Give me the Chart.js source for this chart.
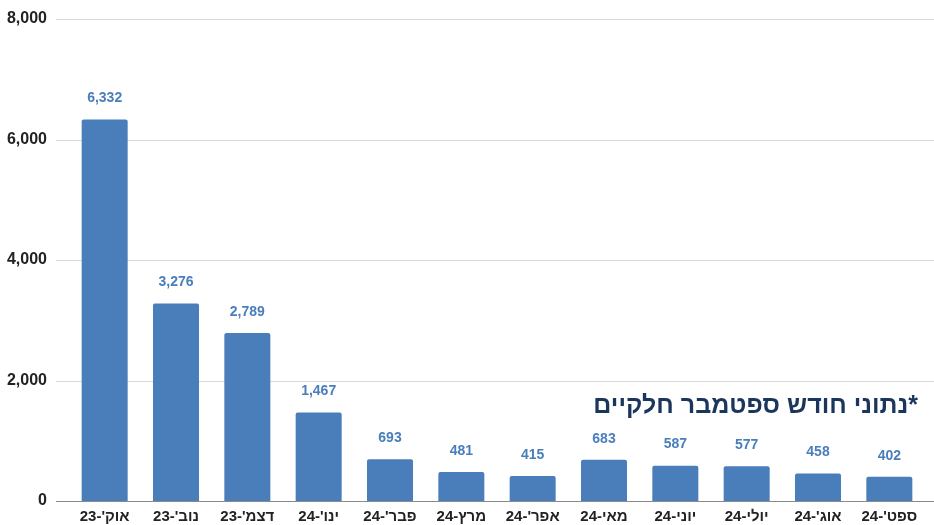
<!DOCTYPE html>
<html>
<head>
<meta charset="utf-8">
<script src="https://cdn.jsdelivr.net/npm/chart.js@4"></script>
<style>
html,body{margin:0;padding:0;background:#fff;}
#wrap{width:934px;height:525px;position:relative;}
</style>
</head>
<body>
<div id="wrap"><canvas id="c" width="934" height="525"></canvas></div>
<script>
const categories = ["אוק'-23","נוב'-23","דצמ'-23","ינו'-24","פבר'-24","מרץ-24","אפר'-24","מאי-24","יוני-24","יולי-24","אוג'-24","ספט'-24"];
const values = [6332, 3276, 2789, 1467, 693, 481, 415, 683, 587, 577, 458, 402];
const yTicks = [0, 2000, 4000, 6000, 8000];
const note = "*נתוני חודש ספטמבר חלקיים";

const FONT = "'Liberation Sans', Arial, sans-serif";

const gridPlugin = {
  id: 'gridExt',
  beforeDatasetsDraw(chart) {
    const ctx = chart.ctx, y = chart.scales.y;
    ctx.save();
    yTicks.forEach(v => {
      const py = Math.round(y.getPixelForValue(v)) + 0.5;
      ctx.strokeStyle = v === 0 ? '#8a8a8a' : '#d9d9d9';
      ctx.lineWidth = 1;
      ctx.beginPath();
      ctx.moveTo(56, py);
      ctx.lineTo(chart.width, py);
      ctx.stroke();
    });
    ctx.restore();
  },
  afterDatasetsDraw(chart) {
    const ctx = chart.ctx;
    const meta = chart.getDatasetMeta(0);
    ctx.save();
    ctx.font = "bold 14px " + FONT;
    ctx.fillStyle = '#4a7ebb';
    ctx.textAlign = 'center';
    ctx.textBaseline = 'middle';
    meta.data.forEach((bar, i) => {
      ctx.fillText(values[i].toLocaleString('en-US'), bar.x, bar.y - 21);
    });
    ctx.font = "bold 25px " + FONT;
    ctx.fillStyle = '#1b365d';
    ctx.direction = 'rtl';
    ctx.textAlign = 'right';
    ctx.fillText(note, 918, 406);
    ctx.restore();
  }
};

new Chart(document.getElementById('c'), {
  type: 'bar',
  data: {
    labels: categories,
    datasets: [{
      data: values,
      backgroundColor: '#4a7ebb',
      borderRadius: 2,
      borderSkipped: 'bottom',
      categoryPercentage: 1,
      barPercentage: 0.645
    }]
  },
  options: {
    responsive: false,
    animation: false,
    layout: { padding: { top: 19, right: 9, left: 0, bottom: 0 } },
    plugins: { legend: { display: false }, tooltip: { enabled: false } },
    scales: {
      x: {
        grid: { display: false, drawTicks: false },
        border: { display: false },
        ticks: { color: '#222', font: { family: FONT, size: 15, weight: 'bold' }, padding: 7, maxRotation: 0, autoSkip: false },
        afterFit(s) { s.height = 24; s.paddingLeft = 0; s.paddingRight = 0; }
      },
      y: {
        min: 0, max: 8000,
        afterBuildTicks(s) { s.ticks = yTicks.map(v => ({ value: v })); },
        grid: { display: false, drawTicks: false },
        border: { display: false },
        ticks: { color: '#222', font: { family: FONT, size: 16, weight: 'bold' }, padding: 22,
          callback: v => Number(v).toLocaleString('en-US') },
        afterFit(s) { s.width = 69; s.paddingTop = 0; s.paddingBottom = 0; }
      }
    }
  },
  plugins: [gridPlugin]
});
</script>
</body>
</html>
